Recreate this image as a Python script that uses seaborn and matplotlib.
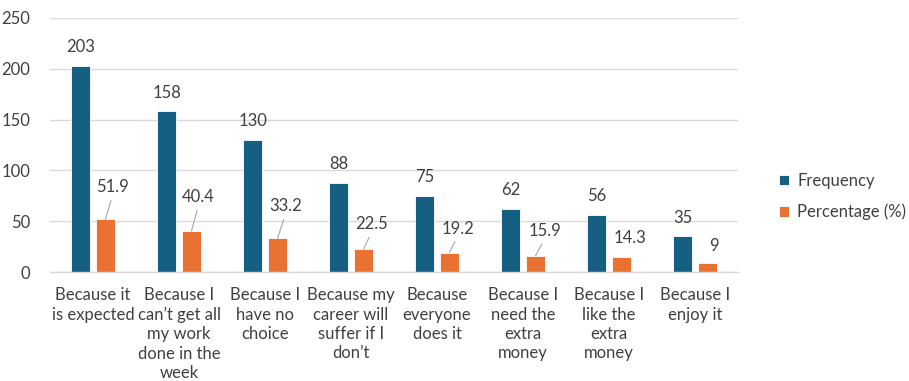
import matplotlib
matplotlib.use("Agg")
import matplotlib.pyplot as plt
import seaborn as sns
import pandas as pd

categories = [
    "Because it\nis expected",
    "Because I\ncan\u2019t get all\nmy work\ndone in the\nweek",
    "Because I\nhave no\nchoice",
    "Because my\ncareer will\nsuffer if I\ndon\u2019t",
    "Because\neveryone\ndoes it",
    "Because I\nneed the\nextra\nmoney",
    "Because I\nlike the\nextra\nmoney",
    "Because I\nenjoy it",
]
frequency = [203, 158, 130, 88, 75, 62, 56, 35]
percentage = [51.9, 40.4, 33.2, 22.5, 19.2, 15.9, 14.3, 9]
series = ["Frequency", "Percentage (%)"]
pct_labels = ["51.9", "40.4", "33.2", "22.5", "19.2", "15.9", "14.3", "9"]

# label offsets in pixels (dx, dy) and whether a leader line is drawn
pct_offsets = [(7, 32), (7, 34), (8, 32), (8, 25), (8, 24), (9, 25), (8, 19), (6, 17)]
pct_leader = [True, True, True, True, True, True, False, False]

df = pd.DataFrame({
    "cat": categories * 2,
    "series": [series[0]] * len(categories) + [series[1]] * len(categories),
    "value": frequency + percentage,
})

sns.set_theme(style="white")
plt.rcParams["font.family"] = ["Lato", "DejaVu Sans"]
text_color = "#404040"
fs = 12

fig = plt.figure(figsize=(9.09, 3.81), dpi=100)
ax = fig.add_axes([0.055, 0.286, 0.757, 0.667])

palette = {series[0]: "#156082", series[1]: "#E97132"}
sns.barplot(data=df, x="cat", y="value", hue="series", palette=palette,
            width=0.58, gap=0.24, ax=ax, edgecolor="white", linewidth=0.6,
            saturation=1, legend=True)

ax.set_ylim(0, 250)
ax.set_xlim(-0.5, len(categories) - 0.5)
ax.set_yticks([0, 50, 100, 150, 200, 250])
ax.yaxis.grid(True, color="#d9d9d9", lw=1)
ax.set_axisbelow(True)
for s in ["top", "right", "left"]:
    ax.spines[s].set_visible(False)
ax.spines["bottom"].set_color("#d9d9d9")
ax.spines["bottom"].set_linewidth(1)
ax.tick_params(axis="both", length=0, colors=text_color, labelsize=fs)
ax.tick_params(axis="y", pad=14)
ax.tick_params(axis="x", pad=11)
ax.set_xlabel("")
ax.set_ylabel("")
for lbl in ax.get_xticklabels():
    lbl.set_linespacing(1.25)
    lbl.set_color(text_color)

containers = ax.containers
freq_bars = containers[0]
pct_bars = containers[1]
for bar, v in zip(freq_bars, frequency):
    ax.annotate(str(v), (bar.get_x() + bar.get_width() / 2, bar.get_height()),
                xytext=(0, 13.5), textcoords="offset points", ha="center", va="center",
                fontsize=fs, color=text_color)
k = 0.72
for bar, lab, (dx, dy), lead in zip(pct_bars, pct_labels, pct_offsets, pct_leader):
    xy = (bar.get_x() + bar.get_width() / 2, bar.get_height())
    props = None
    if lead:
        props = dict(arrowstyle="-", color="#a6a6a6", lw=0.8, shrinkA=1.5, shrinkB=0,
                     relpos=(0.5, 0.0))
    ax.annotate(lab, xy, xytext=(dx * k, dy * k), textcoords="offset points",
                ha="center", va="center", fontsize=fs, color=text_color,
                arrowprops=props)

handles, labels = ax.get_legend_handles_labels()
ax.legend(handles, labels, loc="center left", bbox_to_anchor=(0.857, 0.484),
          bbox_transform=fig.transFigure, frameon=False, fontsize=fs,
          handlelength=0.6, handleheight=0.6, handletextpad=0.5,
          labelspacing=0.9, labelcolor=text_color, borderpad=0, borderaxespad=0)

fig.savefig("out.png", dpi=100)
